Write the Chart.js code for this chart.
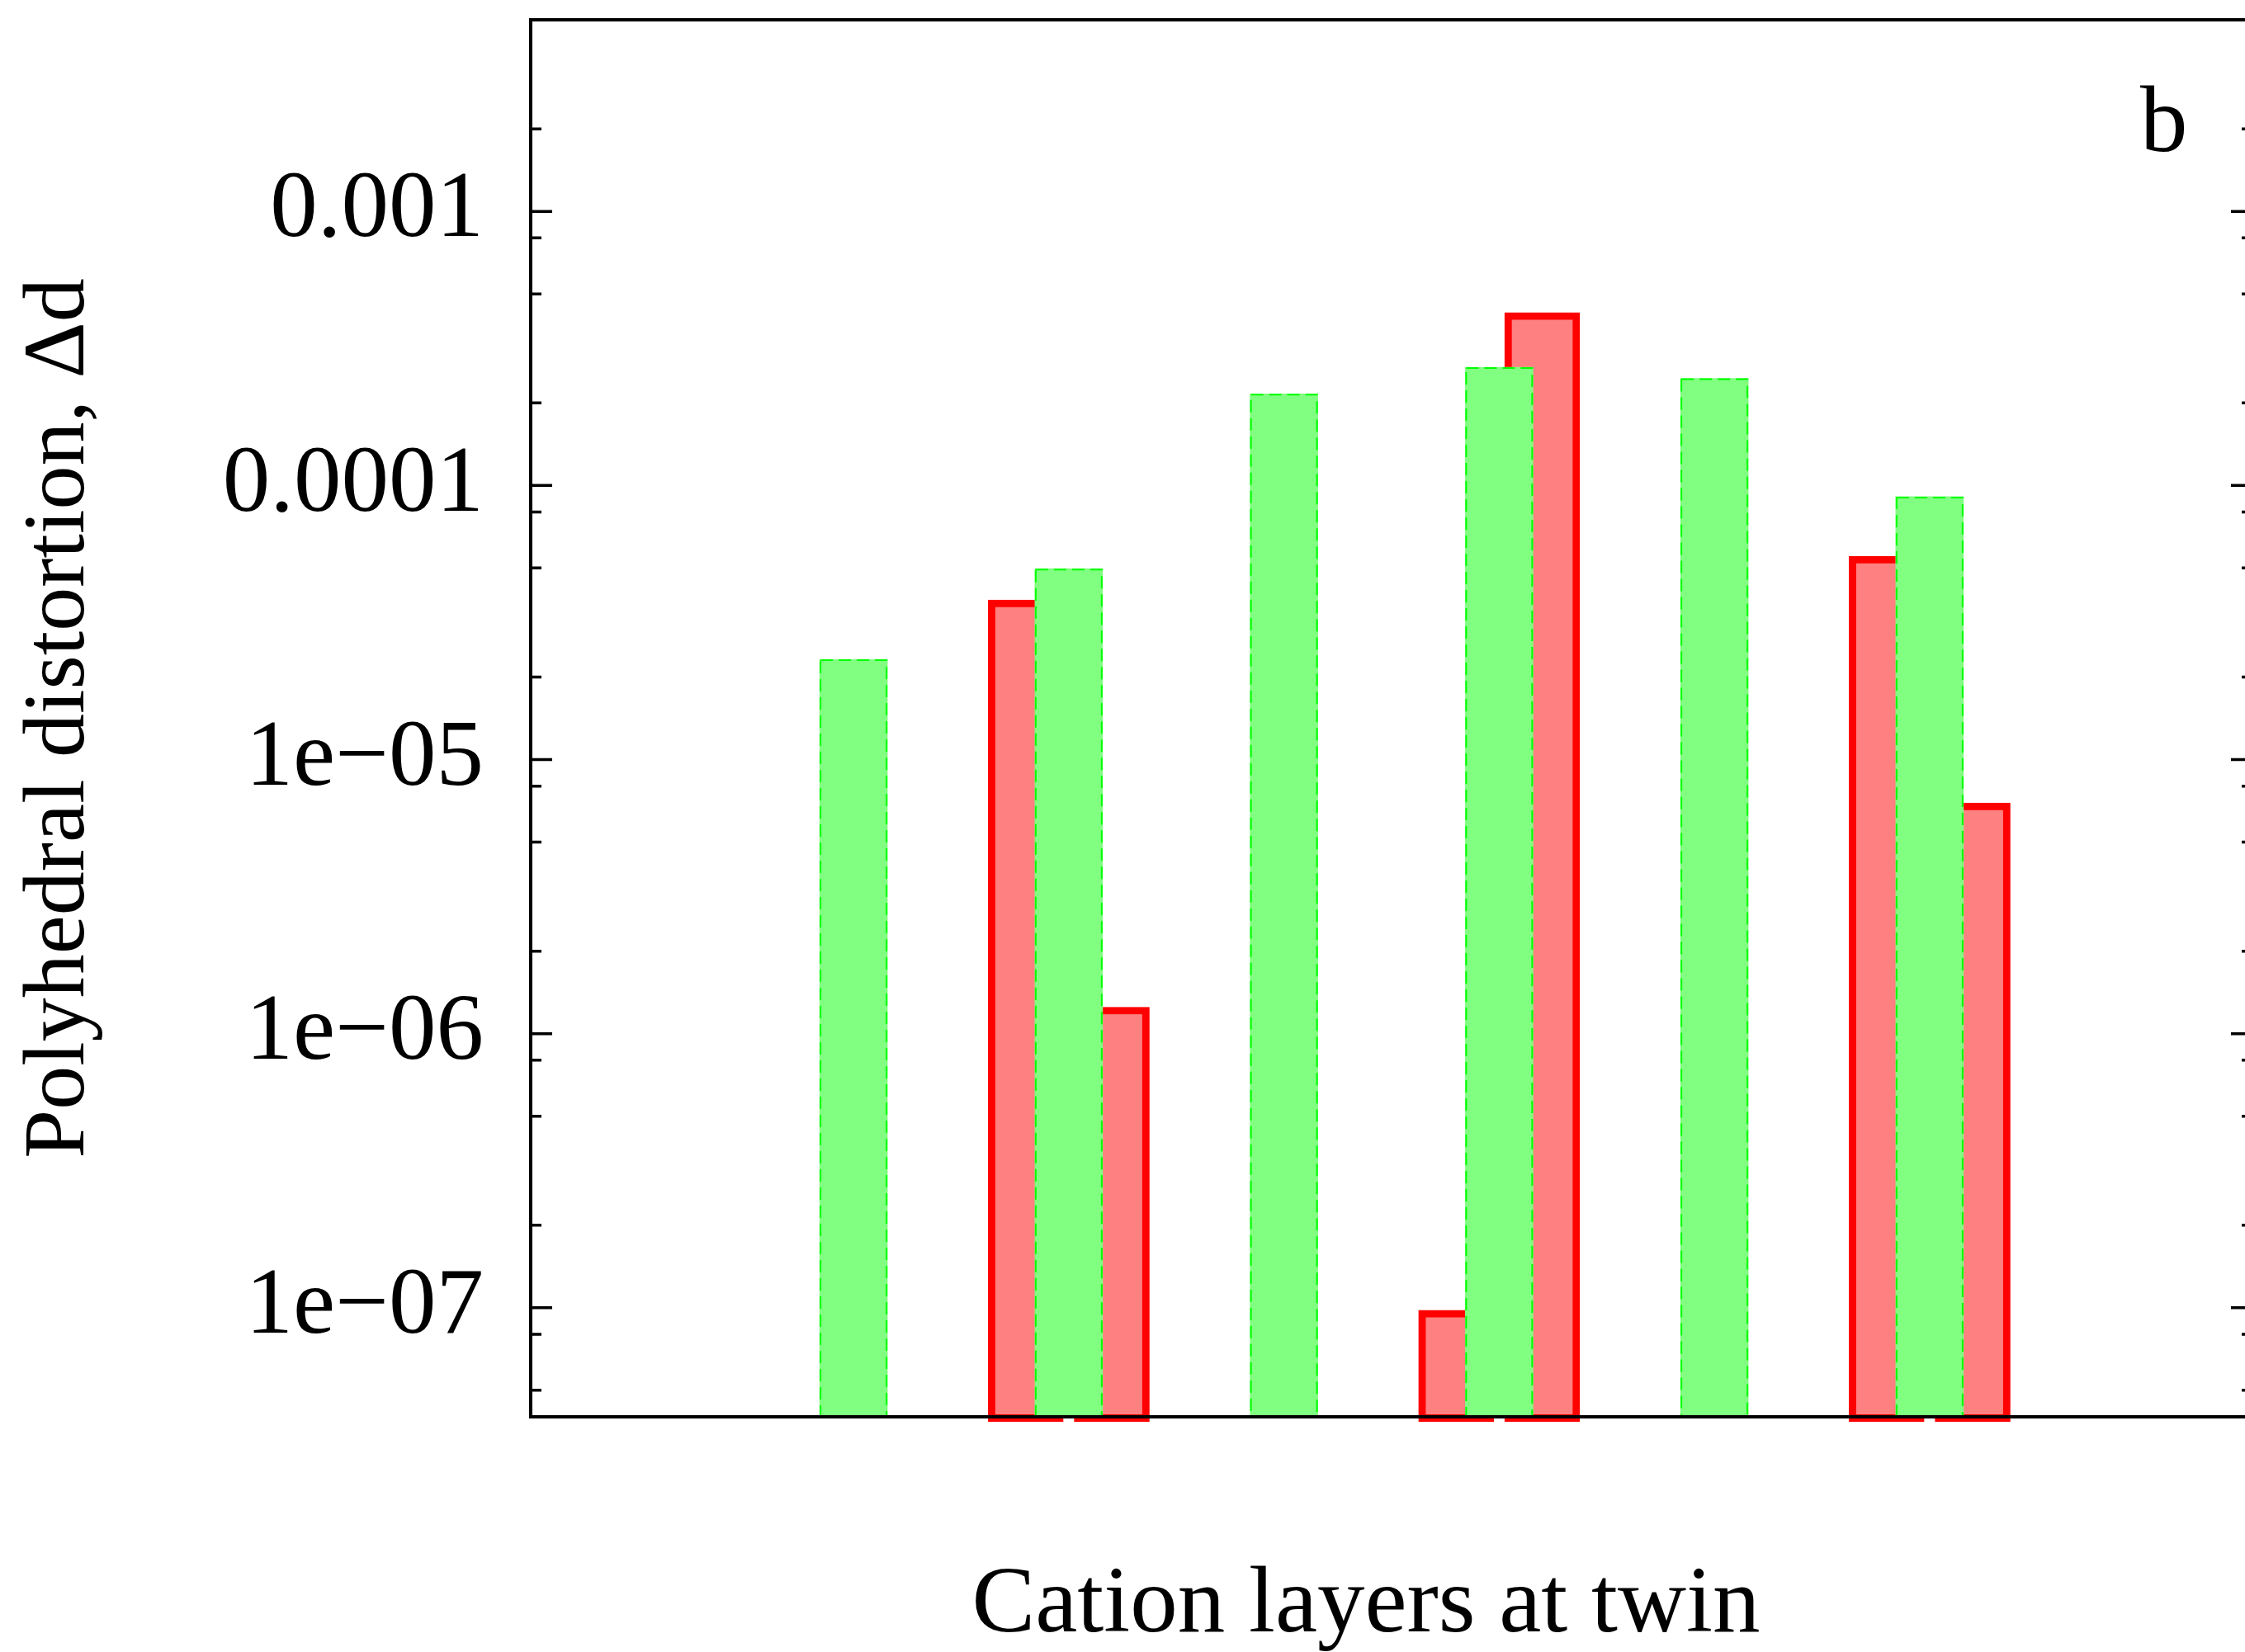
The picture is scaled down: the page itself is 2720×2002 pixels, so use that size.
<!DOCTYPE html>
<html>
<head>
<meta charset="utf-8">
<script src="https://cdn.jsdelivr.net/npm/chart.js@4.4.1/dist/chart.umd.min.js"></script>
<style>
  html, body { margin: 0; padding: 0; background: #fff; overflow: hidden; }
  canvas { display: block; }
</style>
</head>
<body>
<canvas id="distChart" width="2729" height="2002"></canvas>
<script>
// cation layers at the twin, left/right red bars sit either side of the green one
const layers = [1, 2, 3, 4, 5, 6];
const redLeft = [null, 3.82e-5, null, 9.8e-8, null, 5.52e-5];
const greenMid = [2.32e-5, 4.97e-5, 2.16e-4, 2.70e-4, 2.46e-4, 9.10e-5];
const redRight = [null, 1.25e-6, null, 4.27e-4, null, 6.94e-6];

const majorTicks = [1e-7, 1e-6, 1e-5, 1e-4, 1e-3];
const tickLabels = ["1e\u221207", "1e\u221206", "1e\u221205", "0.0001", "0.001"];
const minorSteps = [2, 5, 8];
const yMin = 4e-8;
const yMax = 5e-3;
const barShift = 0.2;

const FONT = "'Liberation Serif', 'Times New Roman', serif";

function toPoints(values, shift) {
    return layers
        .map((l, i) => ({ x: l + shift, y: values[i] }))
        .filter(p => p.y !== null);
}

const framePlugin = {
    id: "frame",
    afterDatasetsDraw(chart) {
        // dashed outline around the green bars
        const { ctx } = chart;
        const meta = chart.getDatasetMeta(1);
        ctx.save();
        ctx.strokeStyle = "#00ff00";
        ctx.lineWidth = 2;
        ctx.setLineDash([15, 7]);
        meta.data.forEach(bar => {
            const { x, y, base, width } = bar.getProps(["x", "y", "base", "width"], true);
            ctx.strokeRect(x - width / 2 + 1, y + 1, width - 2, base - y);
        });
        ctx.restore();
    },
    afterDraw(chart) {
        const { ctx, chartArea: a, scales } = chart;
        const yScale = scales.y;
        ctx.save();
        ctx.strokeStyle = "#000";
        ctx.lineWidth = 4;
        ctx.strokeRect(a.left, a.top, a.right - a.left, a.bottom - a.top);

        const tick = (v, len) => {
            const py = yScale.getPixelForValue(v);
            ctx.beginPath();
            ctx.moveTo(a.left, py);
            ctx.lineTo(a.left + len, py);
            ctx.moveTo(a.right, py);
            ctx.lineTo(a.right - len, py);
            ctx.stroke();
        };
        ctx.lineWidth = 3.5;
        majorTicks.forEach(v => tick(v, 26));
        for (let e = -8; e <= -3; e++) {
            minorSteps.forEach(m => {
                const v = m * Math.pow(10, e);
                if (v > yMin && v < yMax) tick(v, 13);
            });
        }

        ctx.fillStyle = "#000";
        ctx.font = "115px " + FONT;
        ctx.textBaseline = "alphabetic";
        ctx.textAlign = "left";
        ctx.fillText("b", a.right - 136, a.top + 159);
        ctx.textAlign = "center";
        ctx.fillText("Cation layers at twin", 1655, 1977);
        ctx.restore();
    }
};

new Chart(document.getElementById("distChart"), {
    type: "bar",
    data: {
        datasets: [
            {
                label: "red left",
                data: toPoints(redLeft, -barShift),
                backgroundColor: "#ff8080",
                borderColor: "#ff0000",
                borderWidth: 9,
                borderSkipped: false,
                barThickness: 91,
                base: yMin * 0.962,
                clip: false,
                order: 2
            },
            {
                label: "green",
                data: toPoints(greenMid, 0),
                backgroundColor: "#80ff80",
                borderWidth: 0,
                barThickness: 82,
                order: 0
            },
            {
                label: "red right",
                data: toPoints(redRight, barShift),
                backgroundColor: "#ff8080",
                borderColor: "#ff0000",
                borderWidth: 9,
                borderSkipped: false,
                barThickness: 91,
                base: yMin * 0.962,
                clip: false,
                order: 1
            }
        ]
    },
    options: {
        responsive: false,
        animation: false,
        devicePixelRatio: 1,
        grouped: false,
        layout: { padding: { top: 24, bottom: 285, left: 0, right: 0 } },
        plugins: { legend: { display: false }, tooltip: { enabled: false } },
        scales: {
            x: {
                type: "linear",
                display: false,
                offset: false,
                min: -0.5,
                max: 7.5
            },
            y: {
                type: "logarithmic",
                min: yMin,
                max: yMax,
                afterBuildTicks: s => { s.ticks = majorTicks.map(v => ({ value: v })); },
                afterFit: s => { s.width = 643; s.paddingTop = 0; s.paddingBottom = 0; },
                grid: { display: false, drawTicks: false },
                border: { display: false },
                ticks: {
                    color: "#000",
                    padding: 57,
                    autoSkip: false,
                    font: { family: FONT, size: 115 },
                    callback: (v, i) => tickLabels[i]
                },
                title: {
                    display: true,
                    text: "Polyhedral distortion, \u0394d",
                    color: "#000",
                    font: { family: FONT, size: 106, lineHeight: 1.2 },
                    padding: { top: 10, bottom: 0 }
                }
            }
        }
    },
    plugins: [framePlugin]
});
</script>
</body>
</html>
